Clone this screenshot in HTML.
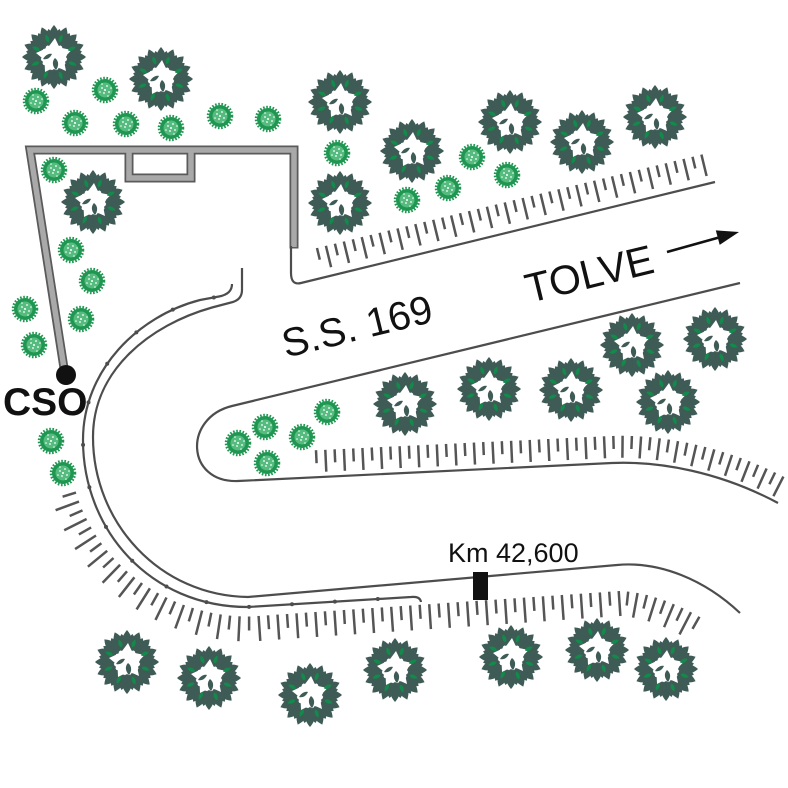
<!DOCTYPE html>
<html><head><meta charset="utf-8"><style>
html,body{margin:0;padding:0;background:#fff;}
svg{display:block;}
text{font-family:"Liberation Sans",Arial,sans-serif;fill:#111;}
</style></head><body>
<svg id="s" xmlns="http://www.w3.org/2000/svg" xmlns:xlink="http://www.w3.org/1999/xlink" width="788" height="788" viewBox="0 0 788 788">
<defs>
<path id="lf" d="M0,-12 C6.5,-15 7,-24 0,-32 C-7,-24 -6.5,-15 0,-12Z"/>
<path id="lf2" d="M0,-13 C5,-16 6,-22 0,-28.5 C-6,-22 -5,-16 0,-13Z"/>
<path id="gl" d="M0,-15.5 C2.5,-17.5 2.5,-21 0,-24 C-2.5,-21 -2.5,-17.5 0,-15.5Z"/>
<g id="tree">
 <g fill="#3e5b56">
  <use href="#lf"/><use href="#lf" transform="rotate(22.5)"/><use href="#lf" transform="rotate(45)"/><use href="#lf" transform="rotate(67.5)"/>
  <use href="#lf" transform="rotate(90)"/><use href="#lf" transform="rotate(112.5)"/><use href="#lf" transform="rotate(135)"/><use href="#lf" transform="rotate(157.5)"/>
  <use href="#lf" transform="rotate(180)"/><use href="#lf" transform="rotate(202.5)"/><use href="#lf" transform="rotate(225)"/><use href="#lf" transform="rotate(247.5)"/>
  <use href="#lf" transform="rotate(270)"/><use href="#lf" transform="rotate(292.5)"/><use href="#lf" transform="rotate(315)"/><use href="#lf" transform="rotate(337.5)"/>
  <use href="#lf2" transform="rotate(11.25)"/><use href="#lf2" transform="rotate(33.75)"/><use href="#lf2" transform="rotate(56.25)"/><use href="#lf2" transform="rotate(78.75)"/>
  <use href="#lf2" transform="rotate(101.25)"/><use href="#lf2" transform="rotate(123.75)"/><use href="#lf2" transform="rotate(146.25)"/><use href="#lf2" transform="rotate(168.75)"/>
  <use href="#lf2" transform="rotate(191.25)"/><use href="#lf2" transform="rotate(213.75)"/><use href="#lf2" transform="rotate(236.25)"/><use href="#lf2" transform="rotate(258.75)"/>
  <use href="#lf2" transform="rotate(281.25)"/><use href="#lf2" transform="rotate(303.75)"/><use href="#lf2" transform="rotate(326.25)"/><use href="#lf2" transform="rotate(348.75)"/>
 </g>
 <circle r="12" fill="#fff"/>
 <path fill="#fff" d="M1,-19 L5.5,-9.5 17.5,-7 9.5,1.5 12,14 2,9.5 -9,15 -9.5,3 -18,-4 -6,-9.5Z"/>
 <g fill="#13894b">
  <use href="#gl" transform="rotate(20)"/><use href="#gl" transform="rotate(65)"/><use href="#gl" transform="rotate(110)"/><use href="#gl" transform="rotate(160)"/>
  <use href="#gl" transform="rotate(205)"/><use href="#gl" transform="rotate(250)"/><use href="#gl" transform="rotate(295)"/><use href="#gl" transform="rotate(340)"/>
 </g>
 <path fill="#3e5b56" d="M1,1 C5,4 5,9 2,13 C-2,9 -2,4 1,1Z"/>
 <path fill="#3e5b56" d="M-2,-3 C-6,-4 -9,-1 -11,2 C-7,3 -4,1 -2,-3Z"/>
</g>
<g id="sh">
 <circle r="11" fill="#1f9651"/>
 <circle r="12" fill="none" stroke="#1f9651" stroke-width="2.5" stroke-dasharray="1.6 1.6"/>
 <circle r="7.5" fill="#55bb7e"/>
 <g fill="#fff">
  <circle cx="-3" cy="-2" r="0.9"/><circle cx="2" cy="-4" r="0.9"/><circle cx="4" cy="2" r="0.9"/>
  <circle cx="-1" cy="3" r="0.9"/><circle cx="0" cy="0" r="1"/><circle cx="-5" cy="2" r="0.8"/>
  <circle cx="3" cy="6" r="0.8"/><circle cx="-3" cy="-6" r="0.8"/><circle cx="6" cy="-2" r="0.8"/>
 </g>
</g>
</defs>
<rect width="788" height="788" fill="#fff"/>

<!-- wall -->
<g fill="none" stroke-linejoin="miter">
 <path d="M64.2 369.5 L30 150 L294 150 L294 248.5 M129 152 L129 178 L191 178 L191 152" stroke="#5a5a5a" stroke-width="9"/>
 <path d="M64 368 L30 150 L294 150 L294 247 M129 150 L129 178 L191 178 L191 150" stroke="#a9a9a9" stroke-width="5.5"/>
</g>
<circle cx="66" cy="375" r="10" fill="#111"/>

<!-- roads -->
<g fill="none" stroke="#4d4d4d" stroke-width="2.2">
 <path d="M291 246 L291 273 Q291 285.5 301 283 L715 182"/>
 <path d="M740 283 L232 406 C183 418 186 483 238 481 L612 463 C660 461 720 472 778 503"/>
 <path d="M242 268 L242 290 Q242 300 231 302.5 L212 307.5 C150 325 93 370 93 437 C93 523 160 596 248 597 L617 565 C660 561 705 580 740 613"/>
 <path d="M232 284 Q232 294 219 296.5 L200 300 C138 316 83 370 83 440 C83 530 150 607 248 607 L411 597 Q420 596 421 602"/>
</g>
<path d="M232 284 Q232 294 219 296.5 L200 300 C138 316 83 370 83 440 C83 530 150 607 248 607 L411 597" fill="none" stroke="#4d4d4d" stroke-width="4" stroke-linecap="round" stroke-dasharray="0 43" stroke-dashoffset="-25"/>

<g id="tk" fill="none" stroke="#555" stroke-width="2.5"></g>

<!-- Km marker -->
<rect x="473" y="572" width="15" height="28" fill="#111"/>
<text x="448" y="562" font-size="27">Km 42,600</text>

<!-- labels -->
<text x="3" y="415" font-size="39" font-weight="bold">CSO</text>
<text x="357" y="340" font-size="40" text-anchor="middle" transform="rotate(-13.7 357 326)">S.S. 169</text>
<text x="589" y="288" font-size="41" text-anchor="middle" transform="rotate(-13.7 589 273)">TOLVE</text>
<line x1="667" y1="252" x2="718" y2="237.7" stroke="#111" stroke-width="2.6"/>
<polygon points="739,232 715.8,230.4 719.7,244.9" fill="#111"/>

<!-- shrubs -->
<g>
<use href="#sh" x="36" y="101"/><use href="#sh" x="105" y="90"/><use href="#sh" x="75" y="123"/>
<use href="#sh" x="126" y="124"/><use href="#sh" x="171" y="128"/><use href="#sh" x="220" y="116"/>
<use href="#sh" x="268" y="119"/><use href="#sh" x="54" y="170"/><use href="#sh" x="71" y="250"/>
<use href="#sh" x="92" y="281"/><use href="#sh" x="81" y="319"/><use href="#sh" x="25" y="309"/>
<use href="#sh" x="34" y="345"/><use href="#sh" x="51" y="441"/><use href="#sh" x="63" y="473"/>
<use href="#sh" x="337" y="153"/><use href="#sh" x="407" y="200"/><use href="#sh" x="448" y="188"/>
<use href="#sh" x="472" y="157"/><use href="#sh" x="507" y="175"/><use href="#sh" x="238" y="443"/>
<use href="#sh" x="265" y="427"/><use href="#sh" x="267" y="463"/><use href="#sh" x="302" y="437"/>
<use href="#sh" x="327" y="412"/>
</g>

<!-- trees -->
<g>
<use href="#tree" x="54" y="57"/><use href="#tree" x="161" y="79"/><use href="#tree" x="340" y="102"/>
<use href="#tree" x="412" y="151"/><use href="#tree" x="510" y="122"/><use href="#tree" x="582" y="142"/>
<use href="#tree" x="655" y="117"/><use href="#tree" x="340" y="203"/><use href="#tree" x="93" y="202"/>
<use href="#tree" x="405" y="404"/><use href="#tree" x="489" y="389"/><use href="#tree" x="571" y="390"/>
<use href="#tree" x="632" y="345"/><use href="#tree" x="715" y="339"/><use href="#tree" x="668" y="402"/>
<use href="#tree" x="127" y="662"/><use href="#tree" x="209" y="678"/><use href="#tree" x="310" y="695"/>
<use href="#tree" x="395" y="670"/><use href="#tree" x="511" y="657"/><use href="#tree" x="597" y="650"/>
<use href="#tree" x="666" y="669"/>
</g>
</svg>
<script>
(function(){
var ns='http://www.w3.org/2000/svg';
var g=document.getElementById('tk');
function band(d,step,L1,L2){
  var p=document.createElementNS(ns,'path');
  p.setAttribute('d',d);p.setAttribute('stroke','none');
  g.appendChild(p);
  var T=p.getTotalLength(),out='',i=0;
  for(var s=0;s<=T+0.01;s+=step,i++){
    var a=p.getPointAtLength(s);
    var b=p.getPointAtLength(Math.min(T,s+0.5));
    var c=p.getPointAtLength(Math.max(0,s-0.5));
    var dx=b.x-c.x,dy=b.y-c.y,n=Math.sqrt(dx*dx+dy*dy)||1;dx/=n;dy/=n;
    var L=(i%2?L2:L1),nx=-dy,ny=dx;
    out+='M'+a.x.toFixed(1)+' '+a.y.toFixed(1)+'L'+(a.x+nx*L).toFixed(1)+' '+(a.y+ny*L).toFixed(1);
  }
  var t=document.createElementNS(ns,'path');
  t.setAttribute('d',out);
  g.appendChild(t);
}
band('M317 248 L710 152.5',9.2,12,22);
band('M316 450.2 L610.7 436 C659.5 434 726 446 788 479',9.3,13,22);
band('M76 492.6 C99 568 171 617 250 616.5 L620 591 C648 592 678 604 705 620',9.5,14,25);
})();
</script>
</body></html>
